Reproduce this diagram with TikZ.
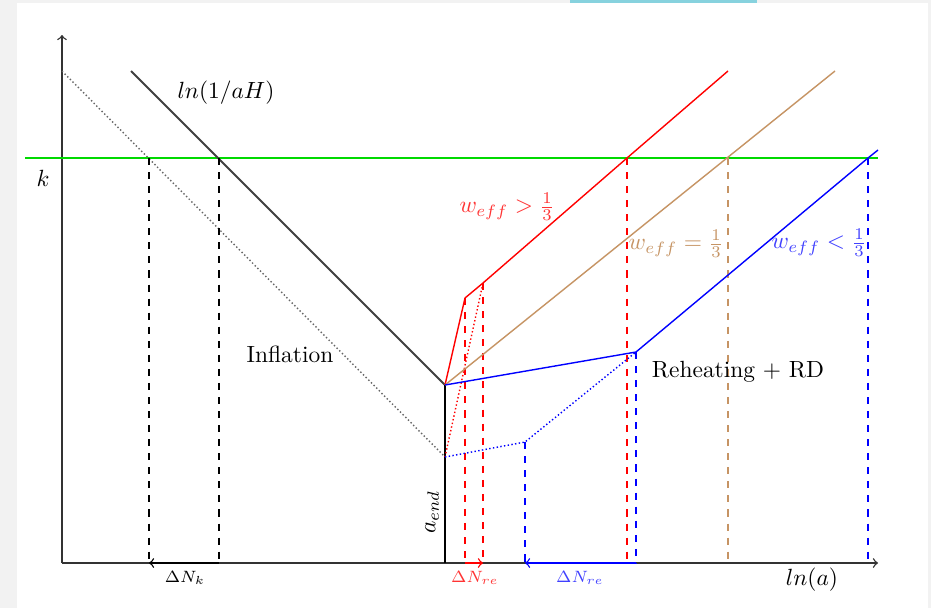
\documentclass[tikz,border=0pt]{standalone}
\usetikzlibrary{positioning,arrows}
\definecolor{tanline}{RGB}{198,148,100}
\definecolor{framegray}{RGB}{242,242,242}
\definecolor{tabbar}{RGB}{135,210,222}
\tikzset{
  axis/.style={semithick,draw=black!80,->},
  hubble/.style={thick,draw=black!75},
  shifted/.style={semithick,densely dotted,draw=black!60},
  kline/.style={draw=green!85!black,semithick},
  drop/.style={dashed,semithick},
  curve/.style={semithick},
  span/.style={semithick,->}
}
\begin{document}
\begin{tikzpicture}[x=0.015cm,y=-0.015cm]
  \fill[framegray] (0,0) rectangle (931,608);
  \fill[white] (17,3) rectangle (928,608);
  \fill[tabbar] (570,0) rectangle (757,3);
  \useasboundingbox (0,0) rectangle (931,608);

  % axes and the scale k
  \coordinate (o) at (62,563);
  \coordinate (ytop) at (62,35);
  \coordinate (xend) at (878,563);
  \coordinate (kl) at (25,158);
  \coordinate (kr) at (878,158);
  \draw[axis] (o) -- (ytop);
  \draw[axis] (o) -- (xend);
  \draw[kline] (kl) -- (kr);
  \node (k) at (43,178) {$k$};
  \node (lna) at (812,580) {$ln(a)$};

  % horizon during inflation
  \coordinate (h0) at (131,71);
  \coordinate (end) at (445,385);
  \coordinate (d0) at (62,71);
  \coordinate (dend) at (445,457);
  \coordinate (aend) at (445,563);
  \draw[hubble] (h0) -- (end);
  \draw[shifted] (d0) -- (dend);
  \draw[semithick,black] (end) -- (aend);
  \node (lnaH) at (226,93) {$ln(1/aH)$};
  \node (infl) at (290,354) {Inflation};
  \node[rotate=90] (aendl) at (432,512) {$a_{end}$};

  % crossings with k
  \coordinate (c1) at (149,158);
  \coordinate (c2) at (219,158);
  \draw[drop,black] (c1) -- (c1 |- o);
  \draw[drop,black] (c2) -- (c2 |- o);
  \draw[span,black] (c2 |- o) -- (c1 |- o);
  \node[font=\scriptsize] (dnk) at (185,578) {$\Delta N_k$};

  % w_eff > 1/3
  \coordinate (r1) at (465,298);
  \coordinate (r2) at (483,283);
  \coordinate (rk) at (627,158);
  \coordinate (r3) at (728,71);
  \draw[curve,red] (end) -- (r1) -- (r2) -- (rk) -- (r3);
  \draw[semithick,densely dotted,red] (dend) -- (r2);
  \draw[drop,red] (r1) -- (r1 |- o);
  \draw[drop,red] (r2) -- (r2 |- o);
  \draw[drop,red] (rk) -- (rk |- o);
  \draw[span,red] (r1 |- o) -- (r2 |- o);
  \node[red!80,font=\scriptsize] (dnr1) at (475,578) {$\Delta N_{re}$};
  \node[red!80] (wgt) at (507,207) {$w_{eff} > \frac{1}{3}$};

  % w_eff = 1/3
  \coordinate (tk) at (728,158);
  \coordinate (t3) at (835,71);
  \draw[curve,tanline] (end) -- (t3);
  \draw[drop,tanline] (tk) -- (tk |- o);
  \node[tanline] (weq) at (676,244) {$w_{eff} = \frac{1}{3}$};

  % w_eff < 1/3
  \coordinate (b0) at (525,442);
  \coordinate (b1) at (636,352);
  \coordinate (bk) at (868,158);
  \coordinate (b3) at (878,150);
  \draw[curve,blue] (end) -- (b1) -- (bk) -- (b3);
  \draw[semithick,densely dotted,blue] (dend) -- (b0) -- (b1);
  \draw[drop,blue] (b0) -- (b0 |- o);
  \draw[drop,blue] (b1) -- (b1 |- o);
  \draw[drop,blue] (bk) -- (bk |- o);
  \draw[span,blue] (b1 |- o) -- (b0 |- o);
  \node[blue!75,font=\scriptsize] (dnr2) at (580,578) {$\Delta N_{re}$};
  \node[blue!75] (wlt) at (819,243) {$w_{eff} < \frac{1}{3}$};
  \node (reh) at (738,372) {Reheating + RD};
\end{tikzpicture}
\end{document}
